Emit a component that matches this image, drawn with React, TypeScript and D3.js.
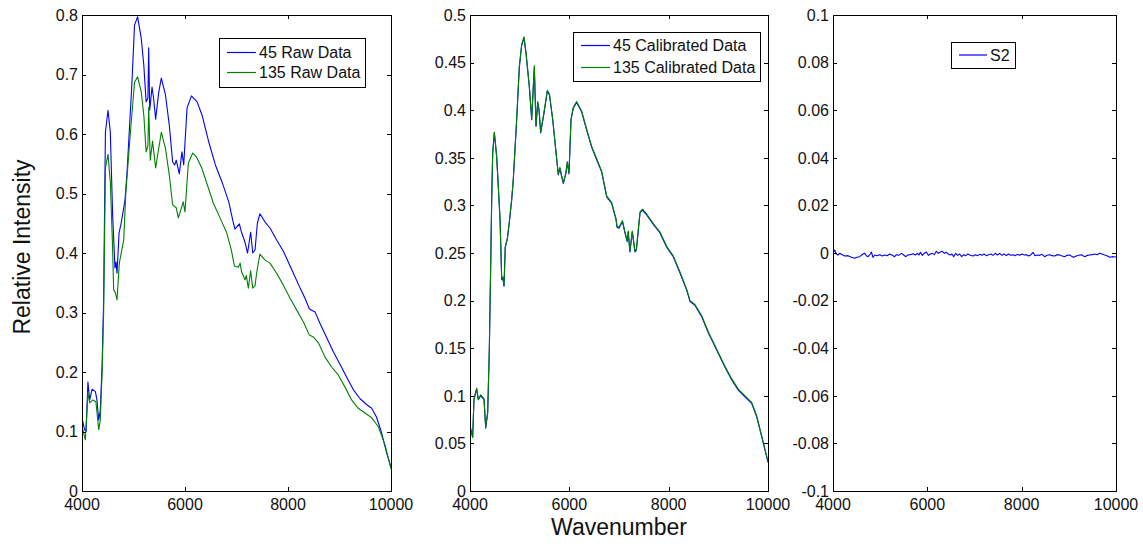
import React from 'react';
import * as d3 from 'd3';

// ---------- DATA ----------
const xTicks = [4000, 6000, 8000, 10000];

const raw45Wn = [4000, 4050, 4080, 4115, 4150, 4195, 4260, 4290, 4325, 4355, 4390, 4420, 4440, 4455, 4505, 4550, 4595, 4640, 4660, 4680, 4720, 4760, 4835, 4875, 4970, 5020, 5080, 5150, 5200, 5245, 5280, 5295, 5315, 5360, 5390, 5430, 5490, 5540, 5620, 5695, 5760, 5800, 5830, 5890, 5940, 5975, 6040, 6125, 6235, 6330, 6460, 6590, 6720, 6850, 6875, 6940, 6970, 7055, 7100, 7165, 7215, 7275, 7315, 7360, 7405, 7455, 7555, 7650, 7780, 7910, 8005, 8105, 8235, 8330, 8415, 8525, 8620, 8750, 8880, 9010, 9140, 9270, 9400, 9530, 9625, 9720, 9820, 9915, 10000];
const raw45 = [0.123, 0.103, 0.100, 0.183, 0.153, 0.171, 0.167, 0.153, 0.119, 0.136, 0.209, 0.321, 0.489, 0.603, 0.640, 0.603, 0.464, 0.375, 0.385, 0.366, 0.434, 0.450, 0.489, 0.536, 0.687, 0.783, 0.797, 0.761, 0.716, 0.654, 0.660, 0.745, 0.640, 0.679, 0.660, 0.625, 0.670, 0.694, 0.666, 0.615, 0.553, 0.548, 0.556, 0.533, 0.570, 0.548, 0.644, 0.664, 0.654, 0.632, 0.587, 0.548, 0.519, 0.486, 0.476, 0.450, 0.440, 0.449, 0.434, 0.418, 0.400, 0.435, 0.400, 0.405, 0.450, 0.466, 0.452, 0.442, 0.422, 0.403, 0.385, 0.366, 0.341, 0.324, 0.306, 0.301, 0.282, 0.258, 0.234, 0.213, 0.191, 0.170, 0.155, 0.145, 0.139, 0.124, 0.097, 0.064, 0.040];

const raw135Wn = [4000, 4065, 4115, 4150, 4210, 4270, 4325, 4355, 4390, 4420, 4455, 4505, 4550, 4590, 4615, 4650, 4680, 4725, 4810, 4850, 4940, 5020, 5080, 5150, 5200, 5245, 5280, 5295, 5325, 5370, 5430, 5540, 5620, 5695, 5760, 5830, 5870, 5910, 5965, 6000, 6065, 6150, 6225, 6325, 6420, 6550, 6680, 6810, 6900, 6960, 7035, 7070, 7100, 7165, 7190, 7230, 7275, 7315, 7360, 7390, 7455, 7555, 7650, 7780, 7910, 8040, 8170, 8300, 8415, 8490, 8590, 8720, 8850, 8975, 9105, 9235, 9365, 9495, 9625, 9755, 9885, 10000];
const raw135 = [0.108, 0.086, 0.165, 0.148, 0.153, 0.150, 0.103, 0.119, 0.198, 0.300, 0.543, 0.566, 0.519, 0.420, 0.338, 0.333, 0.321, 0.383, 0.422, 0.500, 0.603, 0.687, 0.696, 0.671, 0.632, 0.570, 0.580, 0.645, 0.556, 0.588, 0.543, 0.603, 0.576, 0.531, 0.481, 0.476, 0.459, 0.470, 0.486, 0.469, 0.551, 0.568, 0.561, 0.543, 0.518, 0.484, 0.459, 0.434, 0.405, 0.378, 0.376, 0.383, 0.368, 0.355, 0.362, 0.341, 0.370, 0.341, 0.345, 0.366, 0.398, 0.388, 0.383, 0.366, 0.346, 0.324, 0.304, 0.284, 0.262, 0.259, 0.249, 0.225, 0.208, 0.195, 0.175, 0.153, 0.139, 0.131, 0.123, 0.108, 0.077, 0.037];

const calWn = [4000, 4054, 4080, 4134, 4168, 4215, 4282, 4316, 4356, 4389, 4416, 4437, 4457, 4490, 4537, 4605, 4638, 4660, 4685, 4710, 4750, 4790, 4840, 4872, 4940, 4993, 5040, 5087, 5127, 5195, 5242, 5295, 5329, 5363, 5390, 5423, 5490, 5557, 5600, 5665, 5732, 5778, 5810, 5846, 5879, 5929, 5960, 5993, 6034, 6080, 6148, 6249, 6349, 6450, 6551, 6651, 6752, 6853, 6940, 6960, 7000, 7070, 7120, 7165, 7185, 7220, 7267, 7322, 7350, 7423, 7470, 7557, 7691, 7825, 7960, 8093, 8228, 8362, 8430, 8530, 8665, 8800, 8967, 9134, 9268, 9402, 9537, 9671, 9772, 9873, 10000];
const cal45 = [0.067, 0.057, 0.096, 0.107, 0.096, 0.100, 0.096, 0.066, 0.082, 0.148, 0.235, 0.306, 0.355, 0.376, 0.351, 0.285, 0.222, 0.224, 0.215, 0.256, 0.264, 0.281, 0.306, 0.327, 0.390, 0.445, 0.468, 0.476, 0.460, 0.424, 0.390, 0.445, 0.383, 0.408, 0.400, 0.376, 0.397, 0.420, 0.416, 0.390, 0.355, 0.332, 0.339, 0.330, 0.323, 0.333, 0.345, 0.333, 0.390, 0.402, 0.408, 0.398, 0.379, 0.361, 0.348, 0.335, 0.309, 0.302, 0.285, 0.277, 0.276, 0.283, 0.271, 0.262, 0.272, 0.251, 0.272, 0.251, 0.253, 0.292, 0.295, 0.290, 0.280, 0.271, 0.256, 0.246, 0.229, 0.211, 0.199, 0.195, 0.183, 0.166, 0.148, 0.130, 0.117, 0.106, 0.099, 0.092, 0.078, 0.057, 0.030];
const cal135 = [0.069, 0.056, 0.097, 0.108, 0.096, 0.101, 0.097, 0.067, 0.083, 0.149, 0.236, 0.307, 0.356, 0.377, 0.352, 0.286, 0.223, 0.225, 0.216, 0.257, 0.265, 0.282, 0.307, 0.328, 0.391, 0.446, 0.469, 0.477, 0.461, 0.425, 0.391, 0.447, 0.384, 0.409, 0.401, 0.377, 0.398, 0.421, 0.417, 0.391, 0.356, 0.333, 0.340, 0.331, 0.324, 0.334, 0.346, 0.334, 0.391, 0.403, 0.409, 0.399, 0.380, 0.362, 0.349, 0.336, 0.310, 0.303, 0.286, 0.278, 0.277, 0.284, 0.272, 0.263, 0.273, 0.252, 0.273, 0.252, 0.254, 0.293, 0.296, 0.291, 0.281, 0.272, 0.257, 0.247, 0.230, 0.212, 0.200, 0.196, 0.184, 0.167, 0.149, 0.131, 0.118, 0.107, 0.100, 0.093, 0.079, 0.058, 0.031];

const s2Wn = [4000, 4035, 4071, 4106, 4141, 4177, 4247, 4318, 4389, 4459, 4509, 4565, 4636, 4671, 4707, 4742, 4792, 4813, 4848, 4883, 4933, 4989, 5046, 5095, 5145, 5201, 5258, 5307, 5343, 5392, 5449, 5498, 5541, 5590, 5640, 5696, 5746, 5788, 5823, 5852, 5894, 5936, 5979, 6021, 6064, 6106, 6148, 6191, 6233, 6276, 6318, 6360, 6403, 6445, 6488, 6523, 6558, 6601, 6643, 6685, 6728, 6770, 6813, 6862, 6912, 6968, 7018, 7067, 7109, 7159, 7201, 7251, 7300, 7350, 7392, 7442, 7484, 7534, 7583, 7625, 7675, 7717, 7767, 7816, 7866, 7908, 7958, 8007, 8056, 8099, 8148, 8198, 8240, 8283, 8325, 8382, 8431, 8488, 8537, 8594, 8643, 8700, 8749, 8806, 8862, 8912, 8961, 9018, 9060, 9102, 9159, 9208, 9265, 9300, 9342, 9392, 9442, 9491, 9548, 9597, 9654, 9703, 9760, 9809, 9866, 9915, 9972, 10000];
const s2 = [-0.00014, 0.00126, -0.00042, -0.00084, -0.00014, -0.00056, -0.00126, -0.00112, -0.00182, -0.00224, -0.00182, -0.00154, -0.00042, -0.00014, -0.00112, -0.00154, -0.00042, 0.00042, -0.00182, -0.00084, -0.00112, -0.0007, -0.00126, -0.00084, -0.00112, -0.00042, -0.00098, -0.00154, -0.0007, -0.00098, -0.00014, -0.00084, -0.00154, -0.00084, -0.0007, -0.00028, -0.00084, -0.00014, -0.00084, 0.00028, -0.00098, -0.00014, 0.00042, -0.00098, -0.00042, -0.00014, -0.0007, 0.0007, -0.00014, 0.00042, 0.0007, -0.00014, 0.00028, -0.00042, -0.00084, -0.00042, -0.00154, -0.00014, -0.00098, -0.00042, -0.00154, -0.0007, -0.00112, -0.00042, -0.00098, -0.00126, -0.0007, -0.00112, -0.00056, -0.00098, -0.00042, -0.00112, -0.0007, -0.00042, -0.00098, -0.00014, -0.00084, -0.00014, -0.00098, -0.00042, -0.00112, -0.00042, -0.00098, -0.0007, -0.00112, -0.00056, -0.00098, -0.00042, -0.00084, -0.0007, -0.00126, -0.0007, 0.00028, -0.00112, -0.00084, -0.00098, -0.00056, -0.00154, -0.00098, -0.0007, -0.00112, -0.00126, -0.0007, -0.00084, -0.00126, -0.00154, -0.00098, -0.00084, -0.0014, -0.00182, -0.00126, -0.00098, -0.0007, -0.00112, -0.00154, -0.00098, -0.00084, -0.0007, -0.00042, -0.0007, -0.00014, -0.00042, -0.00084, -0.00112, -0.00182, -0.00154, -0.00168, -0.00154];

const yTicks1 = [0, 0.1, 0.2, 0.3, 0.4, 0.5, 0.6, 0.7, 0.8];
const yTicks2 = [0, 0.05, 0.1, 0.15, 0.2, 0.25, 0.3, 0.35, 0.4, 0.45, 0.5];
const yTicks3 = [-0.1, -0.08, -0.06, -0.04, -0.02, 0, 0.02, 0.04, 0.06, 0.08, 0.1];

const legend1 = ['45 Raw Data', '135 Raw Data'];
const legend2 = ['45 Calibrated Data', '135 Calibrated Data'];
const legend3 = ['S2'];

// ---------- STYLE ----------
const FONT = '"Liberation Sans", Arial, Helvetica, sans-serif';
const BLUE = '#0000ff';
const GREEN = '#008000';

type Series = { wn: number[]; vals: number[]; color: string; label: string };

type PanelProps = {
  id: string;
  x0: number; x1: number; y0: number; y1: number;
  yDomain: [number, number];
  yTicks: number[];
  series: Series[];
  legend: { x: number; y: number; w: number; h: number; row: number; lineLen: number };
};

function fmt(v: number) {
  return String(Math.round(v * 1e6) / 1e6);
}

function Panel(p: PanelProps) {
  const x = d3.scaleLinear().domain([4000, 10000]).range([p.x0, p.x1]);
  const y = d3.scaleLinear().domain(p.yDomain).range([p.y1, p.y0]);
  const line = d3.line<[number, number]>().x(d => x(d[0])).y(d => y(d[1]));
  const tl = 4;
  const L = p.legend;
  return (
    <g>
      <defs>
        <clipPath id={p.id}>
          <rect x={p.x0} y={p.y0} width={p.x1 - p.x0} height={p.y1 - p.y0} />
        </clipPath>
      </defs>
      <g clipPath={`url(#${p.id})`}>
        {p.series.map((s, i) => (
          <path key={i} d={line(s.wn.map((w, j) => [w, s.vals[j]] as [number, number])) || ''}
            fill="none" stroke={s.color} strokeWidth={1.1} strokeLinejoin="round" />
        ))}
      </g>
      <g shapeRendering="crispEdges" stroke="#000" strokeWidth={1}>
        <rect x={p.x0 + 0.5} y={p.y0 + 0.5} width={p.x1 - p.x0} height={p.y1 - p.y0} fill="none" strokeWidth={1.3} />
        {xTicks.map(t => (
          <g key={t}>
            <line x1={Math.round(x(t)) + 0.5} x2={Math.round(x(t)) + 0.5} y1={p.y1} y2={p.y1 - tl} />
            <line x1={Math.round(x(t)) + 0.5} x2={Math.round(x(t)) + 0.5} y1={p.y0} y2={p.y0 + tl} />
          </g>
        ))}
        {p.yTicks.map(t => (
          <g key={t}>
            <line x1={p.x0} x2={p.x0 + tl} y1={Math.round(y(t)) + 0.5} y2={Math.round(y(t)) + 0.5} />
            <line x1={p.x1} x2={p.x1 - tl} y1={Math.round(y(t)) + 0.5} y2={Math.round(y(t)) + 0.5} />
          </g>
        ))}
      </g>
      <g fontFamily={FONT} fontSize={16} fill="#111">
        {xTicks.map(t => (
          <text key={t} x={x(t)} y={p.y1 + 19} textAnchor="middle">{fmt(t)}</text>
        ))}
        {p.yTicks.map(t => (
          <text key={t} x={p.x0 - 4} y={y(t)} dy="0.36em" textAnchor="end">{fmt(t)}</text>
        ))}
      </g>
      <g>
        <rect x={L.x + 0.5} y={L.y + 0.5} width={L.w} height={L.h} fill="#fff" stroke="#000" strokeWidth={1.2} shapeRendering="crispEdges" />
        {p.series.map((s, i) => {
          const ry = L.y + L.h / 2 + (i - (p.series.length - 1) / 2) * L.row;
          return (
            <g key={i}>
              <line x1={L.x + 8} x2={L.x + 8 + L.lineLen} y1={ry} y2={ry} stroke={s.color} strokeWidth={1.2} />
              <text x={L.x + 11 + L.lineLen} y={ry} dy="0.36em" fontFamily={FONT} fontSize={16} fill="#111">{s.label}</text>
            </g>
          );
        })}
      </g>
    </g>
  );
}

export default function App() {
  return (
    <svg width={1143} height={544} style={{ position: 'absolute', left: 0, top: 0, background: '#fff' }}>
      <rect x={0} y={0} width={1143} height={544} fill="#fff" />
      <Panel id="c1" x0={82} x1={391} y0={15} y1={491} yDomain={[0, 0.8]} yTicks={yTicks1}
        series={[
          { wn: raw45Wn, vals: raw45, color: BLUE, label: legend1[0] },
          { wn: raw135Wn, vals: raw135, color: GREEN, label: legend1[1] },
        ]}
        legend={{ x: 219, y: 38, w: 146, h: 49, row: 20, lineLen: 29 }} />
      <Panel id="c2" x0={470} x1={768} y0={15} y1={491} yDomain={[0, 0.5]} yTicks={yTicks2}
        series={[
          { wn: calWn, vals: cal45, color: BLUE, label: legend2[0] },
          { wn: calWn, vals: cal135, color: GREEN, label: legend2[1] },
        ]}
        legend={{ x: 573, y: 32, w: 187, h: 49, row: 22, lineLen: 29 }} />
      <Panel id="c3" x0={833} x1={1116} y0={15} y1={491} yDomain={[-0.1, 0.1]} yTicks={yTicks3}
        series={[
          { wn: s2Wn, vals: s2, color: BLUE, label: legend3[0] },
        ]}
        legend={{ x: 951, y: 42, w: 64, h: 26, row: 0, lineLen: 28 }} />
      <text transform="translate(30,247) rotate(-90)" textAnchor="middle" fontFamily={FONT} fontSize={23} fill="#111">Relative Intensity</text>
      <text x={619} y={535} textAnchor="middle" fontFamily={FONT} fontSize={23} fill="#111">Wavenumber</text>
    </svg>
  );
}
